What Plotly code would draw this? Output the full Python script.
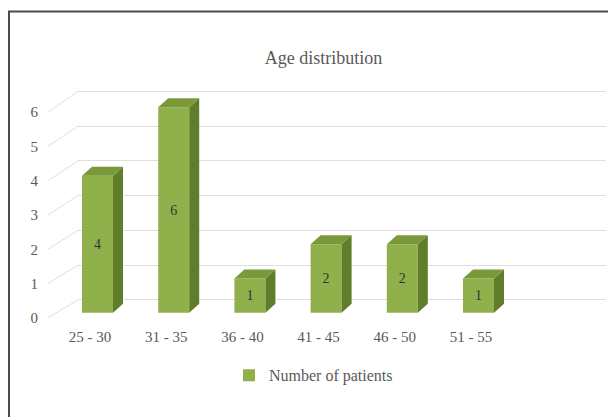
import plotly.graph_objects as go

# data
categories = ["25 - 30", "31 - 35", "36 - 40", "41 - 45", "46 - 50", "51 - 55"]
patients = [4, 6, 1, 2, 2, 1]
y_ticks = [0, 1, 2, 3, 4, 5, 6]

W, H = 616, 417
PAGE_OFF = 8       # browser body margin, px
FRONT_COL = "#8fb04b"
SIDE_COL = "#607d2b"
TOP_COL = "#7a9939"
GRID_COL = "#dedede"
TXT = "#595959"
FONT = "Liberation Serif"

# fake 3d geometry (px, as seen in the window)
CAT_PX = 76.2      # px per category
UNIT_PX = 34.5     # px per value unit (front)
LABEL0_PX = 90     # x px of first category label
BAR_LEFT = -0.105  # bar front face left, category units
BAR_W = 0.407
DEPTH_DX = 10 / CAT_PX
DEPTH_DY = 9 / UNIT_PX

y_bot, y_top = 325, 85


def fx(px):
    return (px - PAGE_OFF) / W


def fy(px):
    return 1 - (px - PAGE_OFF) / H


dom = [fy(y_bot), fy(y_top)]


def rng(zero_px, unit):
    return [(zero_px - y_bot) / unit, (zero_px - y_top) / unit]


def back_y(v):
    # back wall value v expressed in front-axis units
    return (320 - (302 - 35 * v)) / UNIT_PX


xs = list(range(len(categories)))

fig = go.Figure()

# back wall subplot (drawn first, so its grid sits behind the bars)
fig.add_trace(go.Scatter(x=[0], y=[0], mode="markers", marker=dict(opacity=0),
                         showlegend=False, hoverinfo="skip", xaxis="x", yaxis="y"))

# diagonals from tick labels to back wall
dx, dy = [], []
for v in y_ticks:
    dx += [(48 - LABEL0_PX) / CAT_PX, (78 - LABEL0_PX) / CAT_PX, None]
    dy += [v, back_y(v), None]
fig.add_trace(go.Scatter(x=dx, y=dy, mode="lines", line=dict(color=GRID_COL, width=1),
                         showlegend=False, hoverinfo="skip", xaxis="x2", yaxis="y2"))

# front faces
fig.add_trace(go.Bar(x=xs, y=patients, width=BAR_W, offset=BAR_LEFT,
                     marker=dict(color=FRONT_COL, line=dict(width=0)),
                     text=[str(p) for p in patients], textposition="inside",
                     insidetextanchor="middle",
                     textfont=dict(family=FONT, size=14, color="#333333"),
                     name="Number of patients", xaxis="x2", yaxis="y3"))

# side and top faces
sx, sy, tx, ty = [], [], [], []
for i, v in zip(xs, patients):
    xl = i + BAR_LEFT
    xr = xl + BAR_W
    sx += [xr, xr, xr + DEPTH_DX, xr + DEPTH_DX, xr, None]
    sy += [0, v, v + DEPTH_DY, DEPTH_DY, 0, None]
    tx += [xl, xr, xr + DEPTH_DX, xl + DEPTH_DX, xl, None]
    ty += [v, v, v + DEPTH_DY, v + DEPTH_DY, v, None]
fig.add_trace(go.Scatter(x=sx, y=sy, mode="lines", fill="toself", fillcolor=SIDE_COL,
                         line=dict(width=0, color=SIDE_COL), showlegend=False,
                         hoverinfo="skip", xaxis="x2", yaxis="y3"))
fig.add_trace(go.Scatter(x=tx, y=ty, mode="lines", fill="toself", fillcolor=TOP_COL,
                         line=dict(width=0, color=TOP_COL), showlegend=False,
                         hoverinfo="skip", xaxis="x2", yaxis="y3"))

fig.update_layout(
    width=W, height=H,
    margin=dict(l=0, r=0, t=0, b=0),
    paper_bgcolor="white", plot_bgcolor="rgba(0,0,0,0)",
    font=dict(family=FONT, color=TXT, size=15),
    title=dict(text="Age distribution", x=fx(323.5), y=fy(58),
               xanchor="center", yanchor="middle",
               font=dict(family=FONT, size=18, color=TXT)),
    showlegend=True,
    legend=dict(orientation="h", x=fx(229), y=fy(378), xanchor="left",
                yanchor="middle", itemwidth=30,
                font=dict(family=FONT, size=16, color=TXT)),
    xaxis=dict(domain=[fx(78), fx(606)], range=[0, 1], visible=False, anchor="y"),
    yaxis=dict(domain=dom, range=rng(302, 35), anchor="x", tickvals=y_ticks,
               showgrid=True, gridcolor=GRID_COL, gridwidth=1, zeroline=False,
               showticklabels=False, ticks="", showline=False),
    xaxis2=dict(domain=[0, 1],
                range=[(PAGE_OFF - LABEL0_PX) / CAT_PX, (W + PAGE_OFF - LABEL0_PX) / CAT_PX],
                tickmode="array", tickvals=xs, ticktext=categories,
                showgrid=False, zeroline=False, showline=False, ticks="",
                ticklabelstandoff=3,
                tickfont=dict(family=FONT, size=15, color=TXT), anchor="y2"),
    yaxis2=dict(domain=dom, range=rng(320, UNIT_PX), anchor="free", position=fx(38),
                tickvals=y_ticks, showgrid=False, zeroline=False, showline=False,
                ticks="", tickfont=dict(family=FONT, size=15, color=TXT)),
    yaxis3=dict(range=rng(315, UNIT_PX), overlaying="y2", visible=False),
    shapes=[dict(type="rect", xref="paper", yref="paper",
                 x0=fx(9), x1=1.05, y0=-0.05, y1=fy(11.5),
                 line=dict(color="#4a4a4a", width=2), layer="below")],
)

fig.write_html("out.html")
